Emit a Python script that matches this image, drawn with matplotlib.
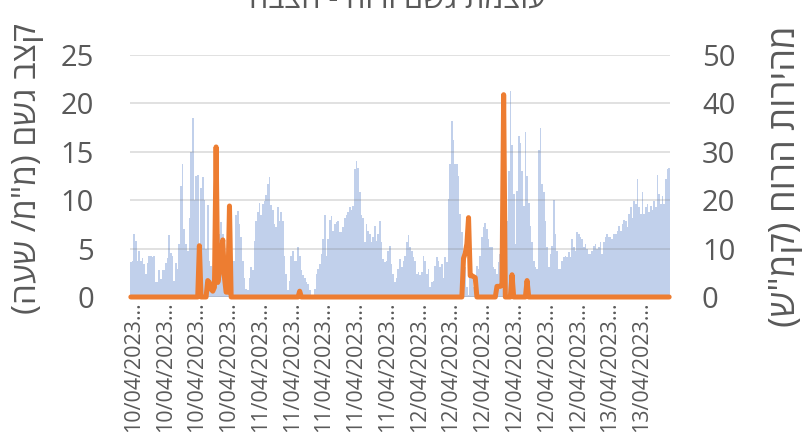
import matplotlib
matplotlib.use("Agg")
import matplotlib.pyplot as plt
import numpy as np

plt.rcParams['font.family'] = ['Open Sans', 'DejaVu Sans']

# Wind speed (km/h), one bar per sample
wind_kmh = [
    7.2, 7.5, 13, 11.6, 7.5, 9.6, 7.5, 8, 6.8, 4.8,
    7, 8.5, 8.5, 8.2, 8.5, 3, 3, 5.6, 3.8, 5.6,
    5.5, 7, 8, 12.9, 9, 8.5, 3.4, 7, 5.8, 11,
    23, 27.5, 14, 11, 9.5, 16.4, 30, 37, 20, 25,
    25.3, 8, 22.6, 24.7, 20, 10, 19, 7.5, 6.5, 2.7,
    1.4, 8.5, 11.6, 13, 15.4, 13, 6.8, 0.7, 1.4, 2,
    0.7, 7.5, 7.5, 17, 17.8, 15, 12.3, 7.5, 4, 1.7,
    1.4, 4, 6.2, 5.5, 11.6, 15.8, 17.5, 19.5, 17, 19.2,
    19.9, 21, 23.3, 24.7, 19, 18, 15, 14.4, 18.5, 15.8,
    17.5, 15.8, 8.5, 4.8, 1.4, 3.4, 8.5, 9.6, 7.5, 7.5,
    10.3, 8.5, 5.5, 4.5, 4, 3, 2.7, 1.4, 0.5, 0.5,
    1.7, 4.8, 5.8, 6.8, 8.9, 12, 17, 8.5, 12, 16,
    16.8, 13.7, 15, 15.4, 15.8, 13.4, 13.4, 14.4, 16.4, 17,
    17.5, 18.5, 18, 18.8, 26.4, 28.2, 26.7, 21.6, 17, 16.4,
    11.3, 15, 13.7, 13, 11.3, 12.3, 14.7, 11.6, 13, 15.8,
    11.3, 7.9, 7.2, 7.5, 9.6, 10.6, 6.8, 4.8, 3, 4,
    5.8,
    7.9, 6.2, 7.5, 8.5, 11.3, 12.9, 10.3, 9.6, 8.2, 7.5,
    4.8, 5.1, 4.5, 5.1, 8.5, 7.5, 4.8, 5.8, 2, 3,
    3.4, 6.5, 8.2, 7.5, 6.2, 6.8, 4, 8.2, 7.2, 20.2,
    27.4, 36.4, 32.5, 27.4, 27.4, 25, 17.1, 13.4, 8.2, 6.2,
    2, 0.5, 4.8, 4, 2, 4, 6.5, 5.8, 8.5, 12.3,
    14.4, 15.2, 14, 12, 10.3, 10.3, 6.2, 5.8, 4.8, 7.2,
    8.9, 4, 4.8, 6.2, 15.8, 26, 42.6, 31.5, 21.2, 11,
    22, 33.2, 31.8, 26, 18.8, 34, 25, 19.5, 14.7, 11.3,
    7.5, 6.2, 5.8, 30.3, 35, 23.3, 21.6, 15.8, 10.3, 6.2,
    8.9, 10.6, 20, 13, 9.6, 5.8, 5.8, 7.5, 8.2, 8.5,
    8.2, 9.2, 8.2, 12, 10.3, 9.6, 13.4, 13, 12.3, 12,
    10.3, 11, 10, 8.9, 8.9, 9.6, 10.6, 11, 10, 10.3,
    11.3, 8.9, 11.3, 12.3, 13, 12.3, 12.3, 12, 13, 13,
    13.7, 14.7, 13.7, 15, 16, 15.8, 14.4, 17.1, 18.5, 16.4,
    19.9, 19.2, 24.3, 18.5, 17.1, 21.6, 17.1, 18.5, 19.2, 17.5,
    18.8, 18, 19.9, 18.5, 25.3, 21.2, 19.2, 20.9, 19.2, 24.3,
    26.4, 26.7,
]

# Rain rate (mm/h), same samples
rain_mmh = (
    [0.0] * 41 + [5.3] + [0.0] * 4
    + [1.7, 1.5, 0.8, 0.6, 1.0]
    + [15.5]
    + [1.5, 2.5, 4.5, 5.9, 2.0, 0.5, 0.5]
    + [9.4]
    + [0.0] * 41 + [0.6] + [0.0] * 97
    + [4.0, 4.5, 5.5, 8.2, 2.2, 2.2, 2.1, 2.0]
    + [0.0] * 12
    + [1.1, 1.1, 1.1, 1.2, 20.9]
    + [0.0] * 4 + [2.3] + [0.0] * 8 + [1.7] + [0.0] * 85
)

tick_labels = (["10/04/2023…"] * 4 + ["11/04/2023…"] * 5
               + ["12/04/2023…"] * 6 + ["13/04/2023…"] * 2)

title = "עוצמת גשם ורוח - חצבה"
left_label = "קצב גשם (מ\"מ/ שעה)"
right_label = "מהירות הרוח (קמ\"ש)"


def visual(s):
    # reverse for right-to-left display and mirror brackets
    swap = {'(': ')', ')': '('}
    return ''.join(swap.get(c, c) for c in s[::-1])


GRAY = '#595959'
W, H = 803, 440
fig = plt.figure(figsize=(W / 100, H / 100), dpi=100)
ax = fig.add_axes([130 / W, (H - 297) / H, 540 / W, 242 / H])
ax2 = ax.twinx()

n = len(wind_kmh)
x = np.arange(n)
ax2.bar(x, wind_kmh, width=1.0, color='#4472C4', alpha=0.33, linewidth=0)
ax.set_zorder(ax2.get_zorder() + 1)
ax.patch.set_visible(False)
ax.plot(x, rain_mmh, color='#ED7D31', lw=3.6, solid_joinstyle='round',
        solid_capstyle='round', clip_on=False, zorder=3)

ax.set_xlim(-0.5, n - 0.5)
ax.set_ylim(0, 25)
ax2.set_ylim(0, 50)
ax.set_yticks(range(0, 26, 5))
ax2.set_yticks(range(0, 51, 10))
ax.grid(axis='y', color='#808080', alpha=0.3, lw=1.1)
ax.set_axisbelow(True)

step = n // len(tick_labels)
ax.set_xticks([1.5 + step * k for k in range(len(tick_labels))])
ax.set_xticklabels(tick_labels, rotation=90, fontsize=15.5, color=GRAY)

for a in (ax, ax2):
    for s in a.spines.values():
        s.set_visible(False)
ax.tick_params(axis='y', length=0, pad=26, labelsize=21, labelcolor=GRAY)
ax2.tick_params(axis='y', length=0, pad=23, labelsize=21, labelcolor=GRAY)
ax.tick_params(axis='x', length=0, pad=3)

fig.text(28 / W, 1 - 168 / H, visual(left_label), rotation=90, ha='center',
         va='center', fontsize=24, color=GRAY)
fig.text(786 / W, 1 - 176 / H, visual(right_label), rotation=90, ha='center',
         va='center', fontsize=26, color=GRAY)
fig.text(398 / W, 1 - 8 / H, visual(title), ha='center', va='baseline',
         fontsize=22, color=GRAY)

fig.savefig('out.png', dpi=100)
